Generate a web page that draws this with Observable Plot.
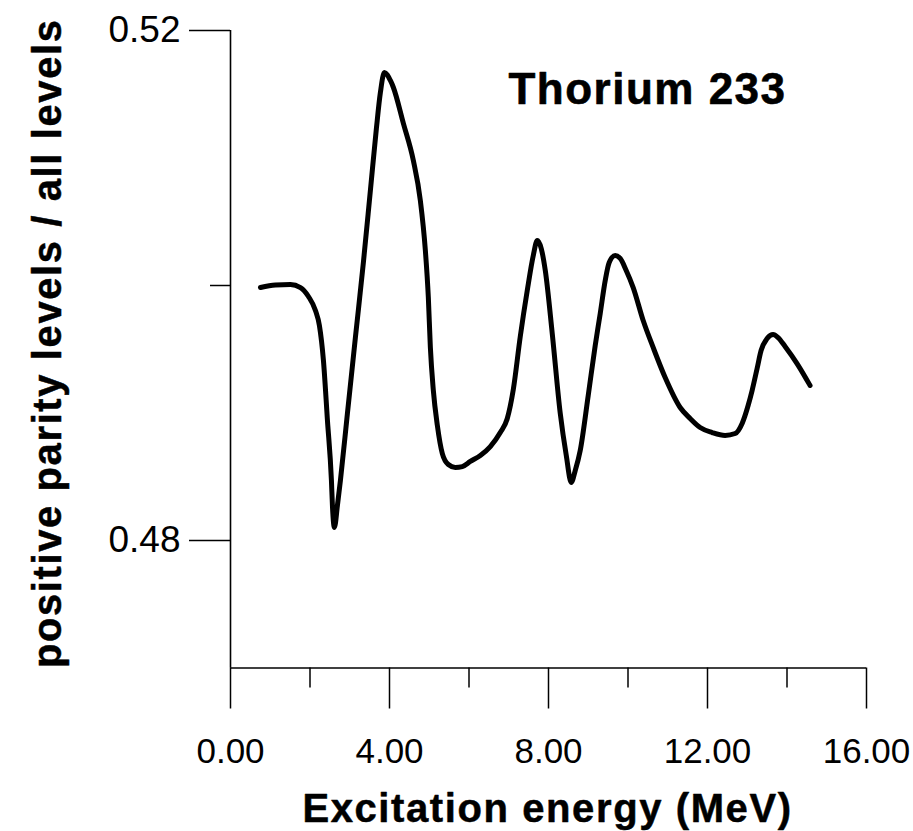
<!DOCTYPE html>
<html><head><meta charset="utf-8">
<script src="https://cdn.jsdelivr.net/npm/d3@7"></script>
<script src="https://cdn.jsdelivr.net/npm/@observablehq/plot@0.6"></script>
<style>body{margin:0;background:#fff;}</style>
</head><body><div id="chart"></div>
<script>
// Excitation energy (MeV)
const energy = [0.754, 1.131, 1.508, 1.760, 1.961, 2.137, 2.237, 2.338, 2.439, 2.539,
  2.564, 2.614, 2.690, 2.765, 2.941, 3.142, 3.343, 3.519, 3.670, 3.771,
  3.871, 4.022, 4.098, 4.349, 4.600, 4.776, 4.902, 4.977, 5.028, 5.103,
  5.204, 5.329, 5.480, 5.656, 5.832, 6.033, 6.285, 6.536, 6.787, 6.963,
  7.114, 7.290, 7.466, 7.617, 7.718, 7.818, 7.919, 8.094, 8.296, 8.447,
  8.572, 8.673, 8.798, 8.999, 9.175, 9.301, 9.427, 9.527, 9.678, 9.804,
  9.955, 10.131, 10.382, 10.633, 10.935, 11.312, 11.564, 11.815, 12.117, 12.443,
  12.695, 12.871, 13.022, 13.122, 13.248, 13.348, 13.499, 13.650, 13.776, 13.952,
  14.253, 14.580];
// positive parity levels / all levels
const ratio = [0.49984, 0.50004, 0.50008, 0.49984, 0.49914, 0.49804, 0.49686, 0.49412, 0.48941, 0.48471,
  0.48275, 0.48102, 0.48275, 0.48471, 0.48996, 0.49592, 0.50180, 0.50745, 0.51231, 0.51514,
  0.51671, 0.51608, 0.51553, 0.51271, 0.50980, 0.50667, 0.50275, 0.49906, 0.49514, 0.49176,
  0.48902, 0.48682, 0.48596, 0.48573, 0.48580, 0.48620, 0.48667, 0.48737, 0.48847, 0.48957,
  0.49184, 0.49600, 0.49961, 0.50235, 0.50353, 0.50290, 0.50118, 0.49624, 0.48996, 0.48667,
  0.48455, 0.48549, 0.48706, 0.49137, 0.49529, 0.49780, 0.50039, 0.50180, 0.50235, 0.50212,
  0.50118, 0.49984, 0.49725, 0.49514, 0.49278, 0.49043, 0.48957, 0.48886, 0.48847, 0.48824,
  0.48839, 0.48918, 0.49059, 0.49176, 0.49349, 0.49490, 0.49584, 0.49616, 0.49592, 0.49522,
  0.49388, 0.49216];
const xMajorTicks = [0, 4, 8, 12, 16];
const xMinorTicks = [2, 6, 10, 14];
const yMajorTicks = [0.52, 0.48];
const yMinorTicks = [0.50];
const xDomain = [0, 16];
const yDomain = [0.47, 0.52];
const titleText = "Thorium 233";
const xLabel = "Excitation energy (MeV)";
const yLabel = "positive parity levels / all levels";

const data = energy.map((e, i) => ({E: e, v: ratio[i]}));

const chart = Plot.plot({
  width: 913,
  height: 831,
  marginLeft: 230,
  marginRight: 47,
  marginTop: 30,
  marginBottom: 163.5,
  style: {fontFamily: "'Liberation Sans', Arial, sans-serif", background: "#fff", color: "#000"},
  x: {domain: xDomain, axis: null},
  y: {domain: yDomain, axis: null},
  marks: [
    Plot.ruleX([xDomain[0]], {y1: yDomain[0], y2: yDomain[1], stroke: "#000", strokeWidth: 1.6}),
    Plot.ruleY([yDomain[0]], {x1: xDomain[0], x2: xDomain[1], stroke: "#000", strokeWidth: 1.6}),
    Plot.axisX(xMajorTicks, {tickSize: 41, tickPadding: 29.5, tickFormat: d => d.toFixed(2), fontSize: 35, strokeWidth: 1.5, stroke: "#000", fill: "#000", label: null}),
    Plot.axisX(xMinorTicks, {tickSize: 20, text: null, tickFormat: null, strokeWidth: 1.5, stroke: "#000", label: null}),
    Plot.axisY(yMajorTicks, {tickSize: 41, tickPadding: 9, tickFormat: d => d.toFixed(2), fontSize: 37, strokeWidth: 1.5, stroke: "#000", fill: "#000", label: null}),
    Plot.axisY(yMinorTicks, {tickSize: 20, text: null, tickFormat: null, strokeWidth: 1.5, stroke: "#000", label: null}),
    Plot.line(data, {x: "E", y: "v", curve: "monotone-x", stroke: "#000", strokeWidth: 5, strokeLinecap: "round", strokeLinejoin: "round"}),
    Plot.text([titleText], {frameAnchor: "top", dx: 99, dy: 59, fontSize: 44, fontWeight: "bold", fill: "#000", stroke: "#000", strokeWidth: 0.6, lineAnchor: "middle"}),
    Plot.text([xLabel], {frameAnchor: "bottom", dx: -1, dy: 141.5, fontSize: 40, fontWeight: "bold", fill: "#000", stroke: "#000", strokeWidth: 0.5, lineAnchor: "middle"}),
    Plot.text([yLabel], {frameAnchor: "left", textAnchor: "middle", dx: -182, dy: -6, rotate: -90, fontSize: 40, fontWeight: "bold", fill: "#000", stroke: "#000", strokeWidth: 0.5, lineAnchor: "middle"})
  ]
});

chart.querySelectorAll("text").forEach(t => {
  const s = t.textContent;
  if (s === titleText) t.style.letterSpacing = "1.5px";
  else if (s === xLabel || s === yLabel) t.style.letterSpacing = "1.6px";
});
document.getElementById("chart").appendChild(chart);
</script>
</body></html>
